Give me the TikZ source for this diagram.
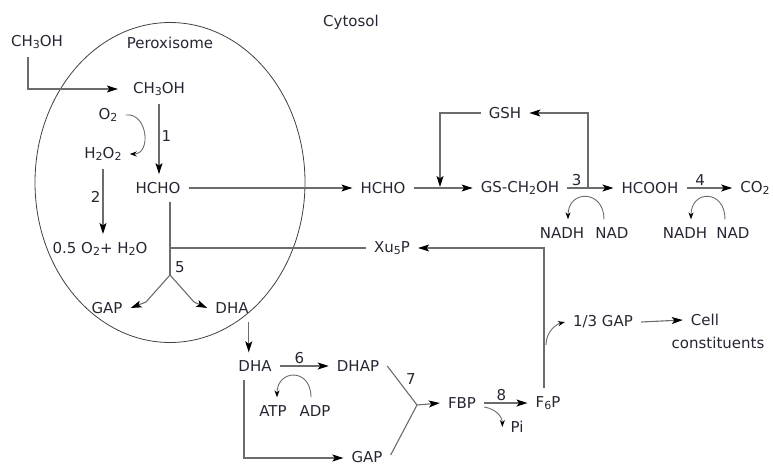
\documentclass[tikz,border=0pt]{standalone}
\usepackage{fontspec}
\setmainfont{DejaVu Sans}
\usetikzlibrary{arrows.meta,positioning}
\definecolor{ink}{HTML}{262633}
\definecolor{wire}{HTML}{6C6C6C}
\tikzset{t/.style={font=\fontsize{15}{18}\selectfont,text=ink,inner xsep=8pt,inner ysep=8pt},
 nm/.style={font=\fontsize{15}{18}\selectfont,text=ink,inner sep=2pt},
 ln/.style={draw=wire,line width=1.1pt},
 ar/.style={ln,-{Stealth[length=11pt,width=7pt,inset=2.5pt,color=black]}},
 cv/.style={ln,line width=0.9pt,-{Stealth[length=7pt,width=5pt,color=black]}}}
\newcommand{\dn}[1]{\raisebox{-0.3ex}{\fontsize{11}{11}\selectfont #1}}
\begin{document}
\begin{tikzpicture}[x=1pt,y=-1pt]
\useasboundingbox (0,0) rectangle (773,465);
\draw[draw=black!75,line width=0.8pt] (170,182.5) ellipse [x radius=135pt,y radius=160pt];
% peroxisome
\node[nm](cyt) at (351,22){Cytosol};\node[nm](perox) at (170,43){Peroxisome};
\node[t](mext) at (37,42){CH\dn{3}OH};\node[t](mint) at (159,89){CH\dn{3}OH};
\node[t](o2) at (108,115){O\dn{2}};\node[t](hoo) at (103,154){H\dn{2}O\dn{2}};
\node[t](hchoP) at (158,188){HCHO};\node[t](water) at (100,249){0.5 O\dn{2}+ H\dn{2}O};
\node[t](gapP) at (107,308){GAP};\node[t](dhaP) at (232,308){DHA};
\node[nm] at (180,267){5};
% cytosol
\node[t](hchoC) at (383,188){HCHO};\node[t](gsch) at (520,188){GS-CH\dn{2}OH};
\node[t](gsh) at (505,113){GSH};\node[t](hcooh) at (650,188){HCOOH};\node[t](co2) at (755,188){CO\dn{2}};
\node[t](nadh1) at (562,233){NADH};\node[t](nad1) at (612,233){NAD};
\node[t](nadh2) at (685,233){NADH};\node[t](nad2) at (733,233){NAD};
\node[t](xu5p) at (392,248){Xu\dn{5}P};
\node[t](dhaC) at (255,366){DHA};\node[t](dhap) at (358,366){DHAP};
\node[t](atp) at (273,411){ATP};\node[t](adp) at (315,411){ADP};
\node[t](gapC) at (367,457){GAP};\node[t](fbp) at (462,403){FBP};
\node[t](f6p) at (548,403){F\dn{6}P};\node[t](pi) at (517,427){Pi};
\node[t](gap3) at (603,322){1/3 GAP};\node[t](cell) at (705,320){Cell};
\node[t](cons) at (718,343){constituents};
\coordinate(fork) at (170,275);\coordinate(join) at (440,187);\coordinate(split) at (588,188);
\coordinate(fork2) at (417,405);\coordinate(stem) at (546,345);
% connectors
\draw[ar,shorten >=7pt]([xshift=-9pt]mext.south)|-(mint.west);
\draw[ar](mint.south)--node[nm,right,pos=0.45]{1}(mint.south|-hchoP.north);
\draw[cv](o2.east) .. controls +(22,-3) and +(22,0) .. (hoo.east);
\draw[ar](hoo.south)--node[nm,left,pos=0.43]{2}(hoo.south|-water.north);
\draw[ar](hchoP.east)--(hchoC.west);
\draw[ln]([xshift=12pt]hchoP.south)--(fork);\draw[ln](xu5p.west)--(xu5p.west-|fork);
\draw[ar](fork)--++(-24,27)--(gapP.east);\draw[ar](fork)--++(24,27)--(dhaP.west);
\draw[ar]([xshift=-8pt]dhaP.south east)--([xshift=-8pt]dhaP.south east|-dhaC.north);
\draw[ar](hchoC.east)--(gsch.west);
\draw[ar](gsh.west)-|(join);\draw[ar](split)|-(gsh.east);
\draw[ar](gsch.east)--node[nm,above,pos=0.2]{3}(hcooh.west);
\draw[ar](hcooh.east)--node[nm,above,pos=0.3]{4}(co2.west);
\draw[cv]([xshift=-8pt]nad1.north) .. controls +(0,-30) and +(0,-30) .. ([xshift=6pt]nadh1.north);
\draw[cv]([xshift=-8pt]nad2.north) .. controls +(0,-30) and +(0,-30) .. ([xshift=6pt]nadh2.north);
\draw[ar]([xshift=-4pt]f6p.north)|-(xu5p.east);
\draw[cv](stem) .. controls +(0,-14) and +(-8,2) .. (gap3.west);
\draw[ar](gap3.east)--(cell.west);
\draw[ar](dhaC.east)--node[nm,above,pos=0.4]{6}(dhap.west);
\draw[cv]([xshift=-4pt]adp.north) .. controls +(0,-30) and +(0,-28) .. ([xshift=4pt]atp.north);
\draw[ln](dhap.east)--node[nm,above right,pos=0.55]{7}(fork2);\draw[ln]([yshift=2pt]gapC.east)--(fork2);
\draw[ar](fork2)--(fbp.west);
\draw[ar]([xshift=-11pt]dhaC.south)|-([yshift=-1pt]gapC.west);
\draw[ar](fbp.east)--node[nm,above,pos=0.4]{8}(f6p.west);
\draw[cv]([yshift=-4pt]fbp.east) .. controls +(12,2) and +(0,-10) .. (pi.west);
\end{tikzpicture}
\end{document}
